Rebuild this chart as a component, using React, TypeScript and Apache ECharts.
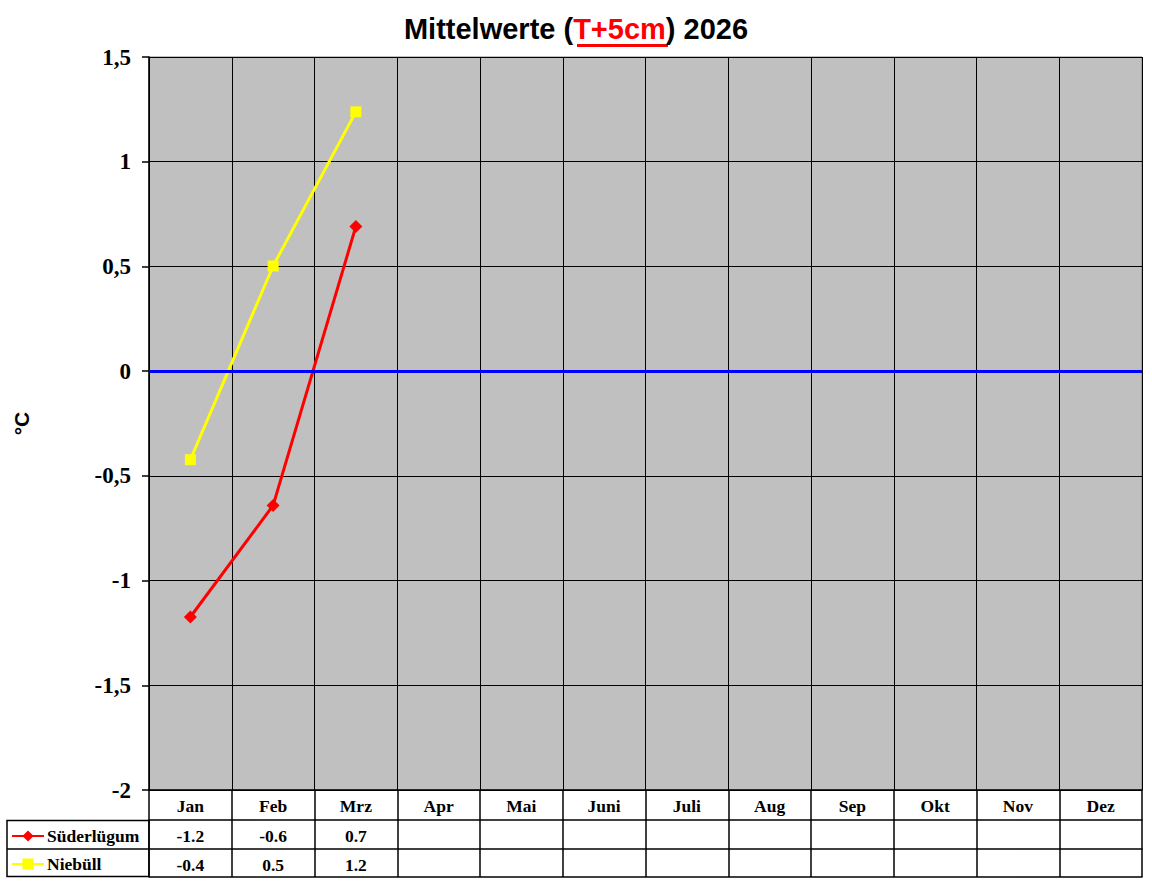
import React, { useEffect, useRef } from "react";
import * as echarts from "echarts";

// months shown in the table header
const months = ["Jan", "Feb", "Mrz", "Apr", "Mai", "Juni", "Juli", "Aug", "Sep", "Okt", "Nov", "Dez"];

// monthly mean values (°C)
const suederluegum = [-1.174, -0.641, 0.691];
const niebuell = [-0.423, 0.502, 1.238];

const yTicks = { min: -2, max: 1.5, interval: 0.5 };

const SERIF = "Liberation Serif";
const SANS = "Liberation Sans";

const App = () => {
  const chartRef = useRef<HTMLDivElement | null>(null);

  useEffect(() => {
    document.body.style.margin = "0";
    if (!chartRef.current) return;
    const chart = echarts.init(chartRef.current, undefined, { renderer: "svg" });

    // value row of the data table, drawn as an extra x axis below the grid
    const tableAxis = (offset: number, values: number[] | null, tickLen: number) => ({
      type: "category",
      gridIndex: 0,
      position: "bottom",
      offset,
      data: months,
      axisLine: { show: true, onZero: false, lineStyle: { color: "#000", width: 1.5 } },
      axisTick: {
        show: tickLen > 0,
        interval: 0,
        length: tickLen,
        lineStyle: { color: "#000", width: 1.5 },
      },
      axisLabel: {
        show: values !== null,
        interval: 0,
        margin: 7,
        fontFamily: SERIF,
        fontWeight: "bold",
        fontSize: 17.5,
        color: "#000",
        formatter: (_v: string, i: number) =>
          values && i < values.length ? values[i].toFixed(1) : "",
      },
      splitLine: { show: false },
    });

    const options = {
      animation: false,
      title: {
        text: "{a|Mittelwerte (}{b|T+5cm}{a|) 2026}",
        left: "center",
        top: 14,
        padding: 0,
        textStyle: {
          rich: {
            a: { fontFamily: SANS, fontWeight: "bold", fontSize: 29, color: "#000" },
            b: { fontFamily: SANS, fontWeight: "bold", fontSize: 29, color: "#FF0000" },
          },
        },
      },
      graphic: [
        // underline of the red part of the title
        { type: "rect", shape: { x: 577, y: 44, width: 91, height: 3 }, style: { fill: "#FF0000" } },
        // legend column of the data table
        {
          type: "rect",
          shape: { x: 7, y: 820.5, width: 142, height: 56 },
          style: { fill: "none", stroke: "#000", lineWidth: 1.5 },
        },
        {
          type: "line",
          shape: { x1: 7, y1: 849, x2: 149, y2: 849 },
          style: { stroke: "#000", lineWidth: 1.5 },
        },
      ],
      legend: {
        orient: "vertical",
        left: 11,
        top: 827,
        itemWidth: 32,
        itemHeight: 14,
        itemGap: 10,
        padding: 0,
        textStyle: { fontFamily: SERIF, fontWeight: "bold", fontSize: 17.5, color: "#000", padding: [0, 0, 0, -2] },
        data: ["Süderlügum", "Niebüll"],
      },
      grid: {
        left: 149,
        right: 10,
        top: 57,
        bottom: 92,
        show: true,
        backgroundColor: "#C0C0C0",
        borderColor: "#808080",
        borderWidth: 1,
      },
      xAxis: [
        {
          type: "category",
          data: months,
          position: "bottom",
          boundaryGap: true,
          axisLine: { show: true, onZero: false, lineStyle: { color: "#000", width: 1.5 } },
          axisTick: { show: true, interval: 0, length: 30, lineStyle: { color: "#000", width: 1.5 } },
          axisLabel: {
            interval: 0,
            margin: 7,
            fontFamily: SERIF,
            fontWeight: "bold",
            fontSize: 17.5,
            color: "#000",
          },
          splitLine: { show: true, interval: 0, lineStyle: { color: "#000", width: 1 } },
        },
        tableAxis(30, suederluegum, 29),
        tableAxis(59, niebuell, 28),
        tableAxis(87, null, 0),
      ],
      yAxis: {
        type: "value",
        min: yTicks.min,
        max: yTicks.max,
        interval: yTicks.interval,
        name: "°C",
        nameLocation: "middle",
        nameGap: 117,
        nameTextStyle: { fontFamily: SANS, fontWeight: "bold", fontSize: 21, color: "#000" },
        axisLine: { show: true, lineStyle: { color: "#000", width: 1.5 } },
        axisTick: { show: true, length: 7, lineStyle: { color: "#000", width: 1.5 } },
        axisLabel: {
          margin: 18,
          fontFamily: SERIF,
          fontWeight: "bold",
          fontSize: 23,
          color: "#000",
          formatter: (v: number) => String(v).replace(".", ","),
        },
        splitLine: { show: true, lineStyle: { color: "#000", width: 1 } },
      },
      series: [
        {
          name: "zero",
          type: "line",
          data: [],
          z: 1,
          silent: true,
          markLine: {
            silent: true,
            symbol: ["none", "none"],
            label: { show: false },
            lineStyle: { color: "#0000FF", width: 3, type: "solid" },
            data: [{ yAxis: 0 }],
          },
        },
        {
          name: "Süderlügum",
          type: "line",
          data: suederluegum,
          z: 3,
          symbol: "diamond",
          symbolSize: 13,
          lineStyle: { color: "#FF0000", width: 3 },
          itemStyle: { color: "#FF0000" },
        },
        {
          name: "Niebüll",
          type: "line",
          data: niebuell,
          z: 4,
          symbol: "rect",
          symbolSize: 11,
          lineStyle: { color: "#FFFF00", width: 3 },
          itemStyle: { color: "#FFFF00" },
        },
      ],
    };

    chart.setOption(options);
    return () => {
      chart.dispose();
    };
  }, []);

  return <div ref={chartRef} style={{ width: "1152px", height: "882px" }}></div>;
};

export default App;
